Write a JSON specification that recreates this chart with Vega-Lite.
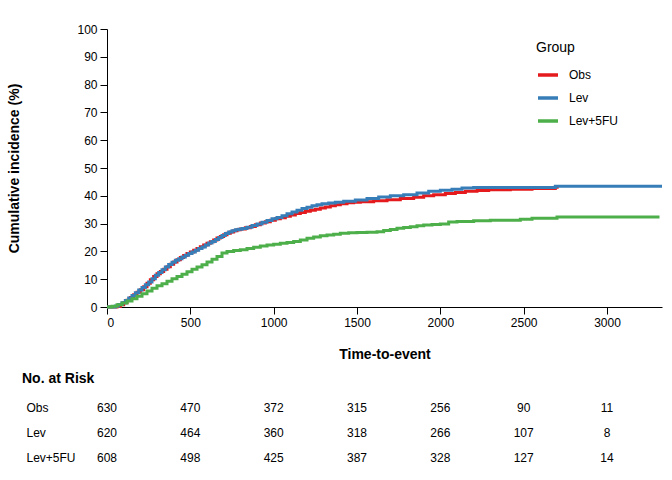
{
  "$schema": "https://vega.github.io/schema/vega-lite/v6.json",
  "padding": {"left": 7, "top": 23, "right": 8, "bottom": 0},
  "spacing": 11,
  "config": {
    "font": "Liberation Sans",
    "view": {"stroke": null},
    "axis": {
      "grid": false,
      "labelFontSize": 12,
      "labelColor": "black",
      "titleFontSize": 14,
      "titleFontWeight": "bold",
      "titleColor": "black",
      "domainColor": "black",
      "tickColor": "black",
      "tickSize": 7,
      "labelPadding": 3
    },
    "title": {"color": "black"}
  },
  "datasets": {
    "curves": [
      {"group": "Obs", "time": 0, "cum": 0},
      {"group": "Obs", "time": 60, "cum": 0.2},
      {"group": "Obs", "time": 80, "cum": 0.8},
      {"group": "Obs", "time": 100, "cum": 1.5},
      {"group": "Obs", "time": 120, "cum": 2.4},
      {"group": "Obs", "time": 140, "cum": 3.4},
      {"group": "Obs", "time": 160, "cum": 4.4},
      {"group": "Obs", "time": 180, "cum": 5.3},
      {"group": "Obs", "time": 200, "cum": 6.2},
      {"group": "Obs", "time": 220, "cum": 7.3},
      {"group": "Obs", "time": 240, "cum": 8.5},
      {"group": "Obs", "time": 260, "cum": 9.8},
      {"group": "Obs", "time": 280, "cum": 11},
      {"group": "Obs", "time": 300, "cum": 12},
      {"group": "Obs", "time": 320, "cum": 12.8},
      {"group": "Obs", "time": 340, "cum": 13.6},
      {"group": "Obs", "time": 360, "cum": 14.5},
      {"group": "Obs", "time": 380, "cum": 15.4},
      {"group": "Obs", "time": 400, "cum": 16.2},
      {"group": "Obs", "time": 420, "cum": 17},
      {"group": "Obs", "time": 440, "cum": 17.8},
      {"group": "Obs", "time": 460, "cum": 18.5},
      {"group": "Obs", "time": 480, "cum": 19.2},
      {"group": "Obs", "time": 500, "cum": 19.8},
      {"group": "Obs", "time": 520, "cum": 20.4},
      {"group": "Obs", "time": 540, "cum": 21},
      {"group": "Obs", "time": 560, "cum": 21.7},
      {"group": "Obs", "time": 580, "cum": 22.3},
      {"group": "Obs", "time": 600, "cum": 22.9},
      {"group": "Obs", "time": 620, "cum": 23.5},
      {"group": "Obs", "time": 640, "cum": 24.1},
      {"group": "Obs", "time": 660, "cum": 24.8},
      {"group": "Obs", "time": 680, "cum": 25.4},
      {"group": "Obs", "time": 700, "cum": 26},
      {"group": "Obs", "time": 720, "cum": 26.5},
      {"group": "Obs", "time": 740, "cum": 27},
      {"group": "Obs", "time": 760, "cum": 27.4},
      {"group": "Obs", "time": 780, "cum": 27.8},
      {"group": "Obs", "time": 800, "cum": 28.1},
      {"group": "Obs", "time": 830, "cum": 28.5},
      {"group": "Obs", "time": 860, "cum": 29},
      {"group": "Obs", "time": 890, "cum": 29.6},
      {"group": "Obs", "time": 920, "cum": 30.2},
      {"group": "Obs", "time": 950, "cum": 30.7},
      {"group": "Obs", "time": 980, "cum": 31.2},
      {"group": "Obs", "time": 1010, "cum": 31.7},
      {"group": "Obs", "time": 1040, "cum": 32.1},
      {"group": "Obs", "time": 1070, "cum": 32.6},
      {"group": "Obs", "time": 1100, "cum": 33.1},
      {"group": "Obs", "time": 1130, "cum": 33.6},
      {"group": "Obs", "time": 1160, "cum": 34},
      {"group": "Obs", "time": 1190, "cum": 34.4},
      {"group": "Obs", "time": 1220, "cum": 34.8},
      {"group": "Obs", "time": 1250, "cum": 35.2},
      {"group": "Obs", "time": 1280, "cum": 35.6},
      {"group": "Obs", "time": 1310, "cum": 36},
      {"group": "Obs", "time": 1340, "cum": 36.4},
      {"group": "Obs", "time": 1370, "cum": 36.8},
      {"group": "Obs", "time": 1400, "cum": 37.1},
      {"group": "Obs", "time": 1440, "cum": 37.5},
      {"group": "Obs", "time": 1480, "cum": 37.7},
      {"group": "Obs", "time": 1520, "cum": 37.9},
      {"group": "Obs", "time": 1600, "cum": 38.2},
      {"group": "Obs", "time": 1680, "cum": 38.6},
      {"group": "Obs", "time": 1760, "cum": 39},
      {"group": "Obs", "time": 1840, "cum": 39.5},
      {"group": "Obs", "time": 1900, "cum": 40},
      {"group": "Obs", "time": 1960, "cum": 40.4},
      {"group": "Obs", "time": 2030, "cum": 40.8},
      {"group": "Obs", "time": 2090, "cum": 41.2},
      {"group": "Obs", "time": 2150, "cum": 41.6},
      {"group": "Obs", "time": 2220, "cum": 41.9},
      {"group": "Obs", "time": 2290, "cum": 42.2},
      {"group": "Obs", "time": 2420, "cum": 42.4},
      {"group": "Obs", "time": 2550, "cum": 42.6},
      {"group": "Obs", "time": 2690, "cum": 43.1},
      {"group": "Obs", "time": 2710, "cum": 43.1},
      {"group": "Lev", "time": 0, "cum": 0},
      {"group": "Lev", "time": 50, "cum": 0.4},
      {"group": "Lev", "time": 70, "cum": 0.9},
      {"group": "Lev", "time": 90, "cum": 1.5},
      {"group": "Lev", "time": 110, "cum": 2.3},
      {"group": "Lev", "time": 130, "cum": 3.2},
      {"group": "Lev", "time": 150, "cum": 4.1},
      {"group": "Lev", "time": 170, "cum": 5.1},
      {"group": "Lev", "time": 190, "cum": 6.1},
      {"group": "Lev", "time": 210, "cum": 7},
      {"group": "Lev", "time": 230, "cum": 8},
      {"group": "Lev", "time": 250, "cum": 9},
      {"group": "Lev", "time": 270, "cum": 10.2},
      {"group": "Lev", "time": 290, "cum": 11.4},
      {"group": "Lev", "time": 310, "cum": 12.4},
      {"group": "Lev", "time": 330, "cum": 13.4},
      {"group": "Lev", "time": 350, "cum": 14.4},
      {"group": "Lev", "time": 370, "cum": 15.3},
      {"group": "Lev", "time": 390, "cum": 16.1},
      {"group": "Lev", "time": 410, "cum": 16.8},
      {"group": "Lev", "time": 430, "cum": 17.4},
      {"group": "Lev", "time": 450, "cum": 18},
      {"group": "Lev", "time": 470, "cum": 18.6},
      {"group": "Lev", "time": 490, "cum": 19.2},
      {"group": "Lev", "time": 510, "cum": 19.8},
      {"group": "Lev", "time": 530, "cum": 20.4},
      {"group": "Lev", "time": 550, "cum": 21},
      {"group": "Lev", "time": 570, "cum": 21.6},
      {"group": "Lev", "time": 590, "cum": 22.3},
      {"group": "Lev", "time": 610, "cum": 23},
      {"group": "Lev", "time": 630, "cum": 23.6},
      {"group": "Lev", "time": 650, "cum": 24.3},
      {"group": "Lev", "time": 670, "cum": 25},
      {"group": "Lev", "time": 690, "cum": 25.7},
      {"group": "Lev", "time": 710, "cum": 26.4},
      {"group": "Lev", "time": 730, "cum": 27},
      {"group": "Lev", "time": 750, "cum": 27.4},
      {"group": "Lev", "time": 770, "cum": 27.8},
      {"group": "Lev", "time": 790, "cum": 28},
      {"group": "Lev", "time": 810, "cum": 28.2},
      {"group": "Lev", "time": 840, "cum": 28.7},
      {"group": "Lev", "time": 870, "cum": 29.3},
      {"group": "Lev", "time": 900, "cum": 29.9},
      {"group": "Lev", "time": 930, "cum": 30.5},
      {"group": "Lev", "time": 960, "cum": 31.1},
      {"group": "Lev", "time": 990, "cum": 31.7},
      {"group": "Lev", "time": 1020, "cum": 32.2},
      {"group": "Lev", "time": 1050, "cum": 32.8},
      {"group": "Lev", "time": 1080, "cum": 33.5},
      {"group": "Lev", "time": 1110, "cum": 34.2},
      {"group": "Lev", "time": 1140, "cum": 34.8},
      {"group": "Lev", "time": 1170, "cum": 35.4},
      {"group": "Lev", "time": 1200, "cum": 35.9},
      {"group": "Lev", "time": 1230, "cum": 36.4},
      {"group": "Lev", "time": 1260, "cum": 36.8},
      {"group": "Lev", "time": 1290, "cum": 37.1},
      {"group": "Lev", "time": 1330, "cum": 37.4},
      {"group": "Lev", "time": 1370, "cum": 37.7},
      {"group": "Lev", "time": 1420, "cum": 38},
      {"group": "Lev", "time": 1490, "cum": 38.5},
      {"group": "Lev", "time": 1560, "cum": 39},
      {"group": "Lev", "time": 1630, "cum": 39.6},
      {"group": "Lev", "time": 1700, "cum": 40},
      {"group": "Lev", "time": 1780, "cum": 40.4},
      {"group": "Lev", "time": 1860, "cum": 41},
      {"group": "Lev", "time": 1930, "cum": 41.6},
      {"group": "Lev", "time": 2000, "cum": 42},
      {"group": "Lev", "time": 2070, "cum": 42.4},
      {"group": "Lev", "time": 2130, "cum": 42.8},
      {"group": "Lev", "time": 2200, "cum": 43},
      {"group": "Lev", "time": 2690, "cum": 43.4},
      {"group": "Lev", "time": 3330, "cum": 43.4},
      {"group": "Lev+5FU", "time": 0, "cum": 0},
      {"group": "Lev+5FU", "time": 30, "cum": 0.3},
      {"group": "Lev+5FU", "time": 60, "cum": 0.8},
      {"group": "Lev+5FU", "time": 90, "cum": 1.4},
      {"group": "Lev+5FU", "time": 120, "cum": 2.2},
      {"group": "Lev+5FU", "time": 150, "cum": 3},
      {"group": "Lev+5FU", "time": 180, "cum": 3.9},
      {"group": "Lev+5FU", "time": 210, "cum": 4.8},
      {"group": "Lev+5FU", "time": 240, "cum": 5.8},
      {"group": "Lev+5FU", "time": 270, "cum": 6.7},
      {"group": "Lev+5FU", "time": 300, "cum": 7.6},
      {"group": "Lev+5FU", "time": 330, "cum": 8.4},
      {"group": "Lev+5FU", "time": 360, "cum": 9.3},
      {"group": "Lev+5FU", "time": 390, "cum": 10.2},
      {"group": "Lev+5FU", "time": 420, "cum": 11},
      {"group": "Lev+5FU", "time": 450, "cum": 11.8},
      {"group": "Lev+5FU", "time": 480, "cum": 12.7},
      {"group": "Lev+5FU", "time": 510, "cum": 13.6},
      {"group": "Lev+5FU", "time": 540, "cum": 14.4},
      {"group": "Lev+5FU", "time": 570, "cum": 15.2},
      {"group": "Lev+5FU", "time": 600, "cum": 16.2},
      {"group": "Lev+5FU", "time": 630, "cum": 17.2},
      {"group": "Lev+5FU", "time": 660, "cum": 18.2},
      {"group": "Lev+5FU", "time": 690, "cum": 19.4},
      {"group": "Lev+5FU", "time": 720, "cum": 20},
      {"group": "Lev+5FU", "time": 760, "cum": 20.3},
      {"group": "Lev+5FU", "time": 800, "cum": 20.6},
      {"group": "Lev+5FU", "time": 840, "cum": 21},
      {"group": "Lev+5FU", "time": 880, "cum": 21.5},
      {"group": "Lev+5FU", "time": 920, "cum": 21.9},
      {"group": "Lev+5FU", "time": 960, "cum": 22.3},
      {"group": "Lev+5FU", "time": 1000, "cum": 22.6},
      {"group": "Lev+5FU", "time": 1040, "cum": 22.9},
      {"group": "Lev+5FU", "time": 1080, "cum": 23.2},
      {"group": "Lev+5FU", "time": 1120, "cum": 23.6},
      {"group": "Lev+5FU", "time": 1160, "cum": 24.1},
      {"group": "Lev+5FU", "time": 1200, "cum": 24.7},
      {"group": "Lev+5FU", "time": 1240, "cum": 25.2},
      {"group": "Lev+5FU", "time": 1280, "cum": 25.6},
      {"group": "Lev+5FU", "time": 1320, "cum": 25.9},
      {"group": "Lev+5FU", "time": 1360, "cum": 26.2},
      {"group": "Lev+5FU", "time": 1400, "cum": 26.5},
      {"group": "Lev+5FU", "time": 1450, "cum": 26.7},
      {"group": "Lev+5FU", "time": 1500, "cum": 26.8},
      {"group": "Lev+5FU", "time": 1560, "cum": 26.9},
      {"group": "Lev+5FU", "time": 1620, "cum": 27.1},
      {"group": "Lev+5FU", "time": 1660, "cum": 27.5},
      {"group": "Lev+5FU", "time": 1700, "cum": 27.9},
      {"group": "Lev+5FU", "time": 1740, "cum": 28.3},
      {"group": "Lev+5FU", "time": 1780, "cum": 28.6},
      {"group": "Lev+5FU", "time": 1820, "cum": 28.9},
      {"group": "Lev+5FU", "time": 1860, "cum": 29.2},
      {"group": "Lev+5FU", "time": 1900, "cum": 29.5},
      {"group": "Lev+5FU", "time": 1950, "cum": 29.7},
      {"group": "Lev+5FU", "time": 2000, "cum": 29.9},
      {"group": "Lev+5FU", "time": 2050, "cum": 30.6},
      {"group": "Lev+5FU", "time": 2100, "cum": 30.8},
      {"group": "Lev+5FU", "time": 2200, "cum": 31},
      {"group": "Lev+5FU", "time": 2300, "cum": 31.2},
      {"group": "Lev+5FU", "time": 2480, "cum": 31.6},
      {"group": "Lev+5FU", "time": 2550, "cum": 31.9},
      {"group": "Lev+5FU", "time": 2700, "cum": 32.4},
      {"group": "Lev+5FU", "time": 3315, "cum": 32.4}
    ],
    "risk": [
      {"group": "Obs", "time": 0, "n": 630},
      {"group": "Obs", "time": 500, "n": 470},
      {"group": "Obs", "time": 1000, "n": 372},
      {"group": "Obs", "time": 1500, "n": 315},
      {"group": "Obs", "time": 2000, "n": 256},
      {"group": "Obs", "time": 2500, "n": 90},
      {"group": "Obs", "time": 3000, "n": 11},
      {"group": "Lev", "time": 0, "n": 620},
      {"group": "Lev", "time": 500, "n": 464},
      {"group": "Lev", "time": 1000, "n": 360},
      {"group": "Lev", "time": 1500, "n": 318},
      {"group": "Lev", "time": 2000, "n": 266},
      {"group": "Lev", "time": 2500, "n": 107},
      {"group": "Lev", "time": 3000, "n": 8},
      {"group": "Lev+5FU", "time": 0, "n": 608},
      {"group": "Lev+5FU", "time": 500, "n": 498},
      {"group": "Lev+5FU", "time": 1000, "n": 425},
      {"group": "Lev+5FU", "time": 1500, "n": 387},
      {"group": "Lev+5FU", "time": 2000, "n": 328},
      {"group": "Lev+5FU", "time": 2500, "n": 127},
      {"group": "Lev+5FU", "time": 3000, "n": 14}
    ]
  },
  "vconcat": [
    {
      "width": 555,
      "height": 278,
      "data": {"name": "curves"},
      "mark": {"type": "line", "interpolate": "step-after", "strokeWidth": 3},
      "encoding": {
        "x": {
          "field": "time",
          "type": "quantitative",
          "scale": {"domain": [0, 3330], "nice": false},
          "axis": {"title": "Time-to-event", "format": "d", "values": [0, 500, 1000, 1500, 2000, 2500, 3000], "titlePadding": 19}
        },
        "y": {
          "field": "cum",
          "type": "quantitative",
          "scale": {"domain": [0, 100], "nice": false},
          "axis": {"title": "Cumulative incidence (%)", "values": [0, 10, 20, 30, 40, 50, 60, 70, 80, 90, 100], "titlePadding": 55}
        },
        "color": {
          "field": "group",
          "type": "nominal",
          "sort": ["Obs", "Lev", "Lev+5FU"],
          "scale": {"domain": ["Obs", "Lev", "Lev+5FU"], "range": ["#E41A1C", "#377EB8", "#4DAF4A"]},
          "legend": {
            "title": "Group",
            "orient": "none",
            "legendX": 429,
            "legendY": 12,
            "titleFontSize": 14,
            "titleFontWeight": "normal",
            "titleColor": "black",
            "titlePadding": 8,
            "labelFontSize": 12,
            "labelColor": "black",
            "labelOffset": 9,
            "symbolType": "stroke",
            "symbolStrokeWidth": 3.5,
            "symbolSize": 400,
            "rowPadding": 4
          }
        }
      }
    },
    {
      "width": 555,
      "height": 75,
      "data": {"name": "risk"},
      "title": {"text": "No. at Risk", "anchor": "start", "frame": "bounds", "fontSize": 14, "fontWeight": "bold", "offset": 9, "dx": -4},
      "mark": {"type": "text", "fontSize": 12, "color": "black"},
      "encoding": {
        "x": {"field": "time", "type": "quantitative", "scale": {"domain": [0, 3330], "nice": false}, "axis": null},
        "y": {
          "field": "group",
          "type": "nominal",
          "sort": ["Obs", "Lev", "Lev+5FU"],
          "axis": {"title": null, "domain": false, "ticks": false, "labelAlign": "left", "labelPadding": 81, "labelFontSize": 12}
        },
        "text": {"field": "n", "type": "quantitative"}
      }
    }
  ]
}
